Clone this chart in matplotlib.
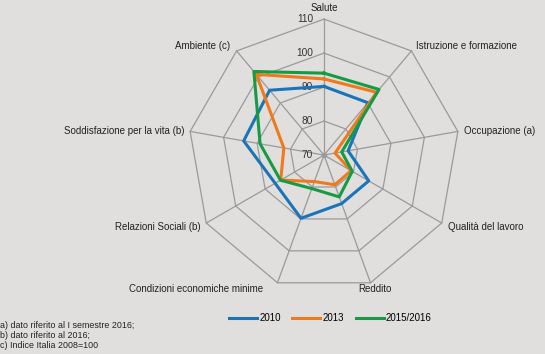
import numpy as np
import matplotlib
matplotlib.use("Agg")
import matplotlib.pyplot as plt
from matplotlib.lines import Line2D

categories = [
    "Salute",
    "Istruzione e formazione",
    "Occupazione (a)",
    "Qualità del lavoro",
    "Reddito",
    "Condizioni economiche minime",
    "Relazioni Sociali (b)",
    "Soddisfazione per la vita (b)",
    "Ambiente (c)",
]
series_names = ["2010", "2013", "2015/2016"]
v2010 = [90.2, 90.1, 77.2, 85.2, 85.2, 89.8, 86.6, 94.0, 94.9]
v2013 = [92.4, 94.1, 73.3, 79.2, 79.3, 78.3, 84.7, 82.0, 101.0]
v2015 = [94.1, 95.2, 75.3, 79.6, 83.1, 80.5, 84.8, 89.1, 102.1]
r_ticks = [70, 80, 90, 100, 110]
footnotes = [
    "a) dato riferito al I semestre 2016;",
    "b) dato riferito al 2016;",
    "c) Indice Italia 2008=100",
]

colors = ["#1a75b8", "#f07a1a", "#169b45"]
bg = "#e0dfde"
grid_c = "#9a9a9a"
plt.rcParams["font.family"] = ["Liberation Sans", "DejaVu Sans"]

fig = plt.figure(figsize=(5.45, 3.54), dpi=100, facecolor=bg)
ax = fig.add_axes([0.345, 0.178, 0.499, 0.768], projection="polar")
ax.set_facecolor("none")
ax.set_theta_offset(np.pi / 2)
ax.set_theta_direction(-1)
ax.set_ylim(r_ticks[0], r_ticks[-1])
ax.spines["polar"].set_visible(False)
ax.grid(False)
ax.set_xticks([])
ax.set_yticks([])

n = len(categories)
angles = np.arange(n) * 2 * np.pi / n
closed = np.append(angles, angles[0])

# polygon grid
for r in r_ticks[1:]:
    ax.plot(closed, [r] * (n + 1), color=grid_c, lw=0.9, zorder=1, clip_on=False)
for a in angles:
    ax.plot([a, a], [r_ticks[0], r_ticks[-1]], color=grid_c, lw=0.9, zorder=1, clip_on=False)
ax.plot([0], [r_ticks[0]], marker="o", ms=3, color=grid_c, zorder=1)

for r in r_ticks:
    ax.annotate(str(r), xy=(0, r), xytext=(-11, 0), textcoords="offset pixels",
                ha="right", va="center", fontsize=7.3, color="#333333", annotation_clip=False)

for vals, col in zip([v2010, v2013, v2015], colors):
    ax.plot(closed, vals + vals[:1], color=col, lw=2.2, zorder=3, clip_on=False)

# label offsets in pixels
offsets = [
    ((0, 11), "center"),
    ((5, 5), "left"),
    ((6, 0), "left"),
    ((6, -4), "left"),
    ((4, -6), "center"),
    ((-14, -6), "right"),
    ((-6, -4), "right"),
    ((-6, 0), "right"),
    ((-6, 5), "right"),
]
for a, lab, (off, ha) in zip(angles, categories, offsets):
    ax.annotate(lab, xy=(a, r_ticks[-1]), xytext=off, textcoords="offset pixels",
                ha=ha, va="center", fontsize=7, color="#222222", annotation_clip=False)

handles = [Line2D([], [], color=c, lw=2.2) for c in colors]
fig.legend(handles, series_names, loc="center", bbox_to_anchor=(0.606, 0.1017), ncol=3,
           frameon=False, fontsize=7, handlelength=2.9, handletextpad=0.2,
           columnspacing=1.2)

for i, t in enumerate(footnotes):
    fig.text(0.0, 1 - (325.5 + i * 10) / 354, t, ha="left", va="center", fontsize=6.4,
             family=["Liberation Sans Narrow", "Liberation Sans", "DejaVu Sans"],
             color="#222222")

fig.savefig("out.png", dpi=100, facecolor=bg)
